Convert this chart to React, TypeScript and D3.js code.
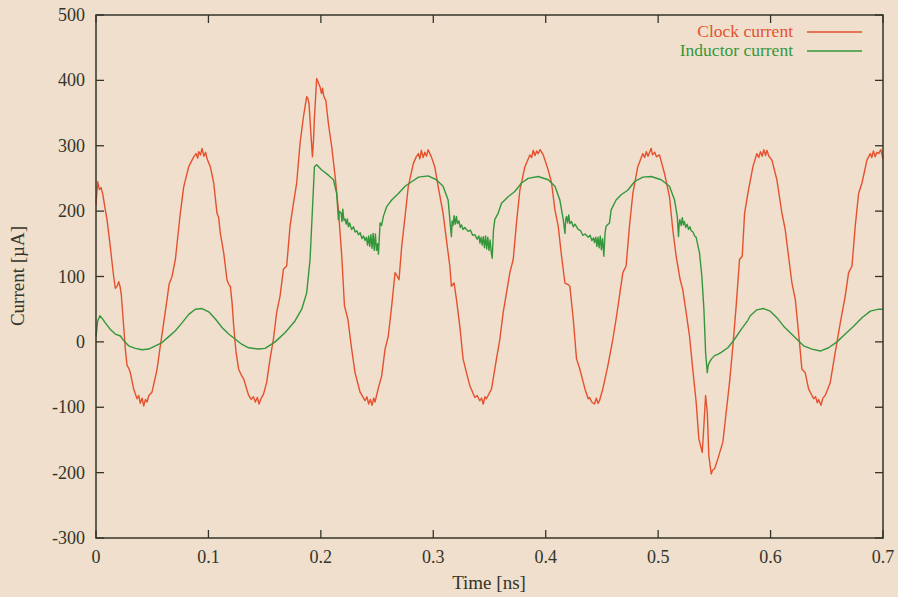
import React from "react";
import * as d3 from "d3";

// Simulated currents over time (ns, µA)
const clockCurrent: [number, number][] = [
  [0, 210], [0.0015, 245], [0.003, 233], [0.0045, 236], [0.006, 226], [0.008, 205], [0.0098, 187], [0.0127, 146],
  [0.0145, 118], [0.0157, 100], [0.0172, 82], [0.019, 86], [0.0202, 92], [0.0215, 84], [0.0225, 72], [0.0246, 24],
  [0.0261, -11], [0.0276, -36], [0.029, -40], [0.0305, -47], [0.0335, -72], [0.0365, -87], [0.038, -82], [0.0394, -94],
  [0.041, -86], [0.0424, -98], [0.044, -88], [0.0454, -92], [0.047, -82], [0.0498, -77], [0.052, -60], [0.0543, -42],
  [0.0572, -6], [0.0602, 29], [0.0632, 65], [0.065, 88], [0.0676, 100], [0.069, 112], [0.0706, 126], [0.073, 165],
  [0.075, 197], [0.078, 237], [0.0825, 268], [0.0869, 283], [0.089, 288], [0.0905, 281], [0.0913, 291], [0.093, 286],
  [0.0943, 296], [0.096, 284], [0.0975, 290], [0.0988, 280], [0.1017, 268], [0.1047, 243], [0.1076, 197], [0.1091, 190],
  [0.1106, 166], [0.1136, 136], [0.1165, 95], [0.118, 88], [0.1195, 85], [0.121, 60], [0.1225, 24], [0.1245, -15],
  [0.1269, -42], [0.129, -50], [0.1314, -57], [0.1358, -82], [0.138, -88], [0.14, -84], [0.1417, -92], [0.1435, -85],
  [0.145, -95], [0.147, -86], [0.149, -80], [0.1518, -62], [0.1548, -26], [0.1578, 4], [0.1607, 45], [0.1637, 70],
  [0.1667, 111], [0.1696, 116], [0.1726, 177], [0.1756, 212], [0.1785, 243], [0.1815, 304], [0.1845, 344], [0.1874, 375],
  [0.1885, 372], [0.1895, 364], [0.1913, 314], [0.1925, 283], [0.1935, 310], [0.1943, 344], [0.1963, 403], [0.1975, 398],
  [0.1993, 390], [0.2005, 380], [0.2015, 388], [0.2023, 378], [0.2035, 372], [0.2044, 370], [0.2067, 334], [0.2097, 298],
  [0.2127, 253], [0.2156, 202], [0.2186, 131], [0.221, 55], [0.224, 35], [0.2274, -11], [0.2304, -47], [0.2349, -77],
  [0.2393, -90], [0.241, -84], [0.2425, -95], [0.244, -88], [0.2455, -97], [0.247, -86], [0.2482, -92], [0.2512, -70],
  [0.2541, -52], [0.2571, -11], [0.26, 9], [0.263, 55], [0.266, 106], [0.268, 100], [0.2695, 95], [0.2719, 146],
  [0.2749, 192], [0.2778, 238], [0.2823, 273], [0.2848, 283], [0.2868, 288], [0.288, 280], [0.2894, 293], [0.291, 282],
  [0.2925, 290], [0.294, 284], [0.2954, 294], [0.2983, 283], [0.3013, 268], [0.3043, 238], [0.3087, 197], [0.3117, 156],
  [0.3147, 116], [0.3161, 85], [0.3185, 90], [0.3206, 65], [0.3236, 24], [0.3265, -26], [0.3295, -47], [0.3325, -67],
  [0.337, -85], [0.339, -82], [0.3414, -90], [0.343, -86], [0.3444, -95], [0.346, -84], [0.3473, -87], [0.3518, -72],
  [0.3562, -26], [0.3592, 4], [0.3622, 45], [0.3651, 75], [0.3681, 106], [0.3711, 126], [0.374, 182], [0.377, 232],
  [0.3815, 268], [0.3859, 286], [0.3875, 282], [0.3889, 293], [0.3905, 285], [0.392, 292], [0.3933, 288], [0.395, 294],
  [0.3978, 286], [0.4022, 263], [0.4052, 243], [0.4082, 202], [0.4111, 177], [0.4141, 131], [0.4171, 90], [0.4195, 88],
  [0.4215, 85], [0.4245, 35], [0.4274, -26], [0.4304, -42], [0.4349, -72], [0.4378, -87], [0.4389, -85], [0.441, -92],
  [0.4434, -95], [0.445, -86], [0.4465, -94], [0.4478, -90], [0.4508, -72], [0.4552, -37], [0.4597, 4], [0.4626, 35],
  [0.4656, 70], [0.4686, 106], [0.4715, 116], [0.4745, 177], [0.4775, 227], [0.4819, 268], [0.4864, 288], [0.488, 282],
  [0.4895, 291], [0.491, 284], [0.4938, 296], [0.495, 286], [0.497, 290], [0.4985, 283], [0.5012, 286], [0.5056, 258],
  [0.5101, 222], [0.513, 172], [0.516, 131], [0.5196, 95], [0.5219, 80], [0.5249, 45], [0.5279, 9], [0.5308, -42],
  [0.5338, -92], [0.5362, -148], [0.5392, -169], [0.5407, -128], [0.5422, -82], [0.5437, -108], [0.5451, -174], [0.5472, -202],
  [0.5485, -196], [0.5502, -194], [0.5531, -179], [0.5576, -153], [0.5605, -108], [0.5635, -62], [0.5665, -6], [0.5694, 55],
  [0.5724, 126], [0.5748, 131], [0.5769, 197], [0.5798, 227], [0.5843, 268], [0.5878, 288], [0.5895, 282], [0.591, 291],
  [0.5925, 284], [0.594, 294], [0.5955, 285], [0.5967, 293], [0.5985, 284], [0.6012, 278], [0.6056, 248], [0.6101, 197],
  [0.613, 172], [0.616, 131], [0.619, 90], [0.622, 65], [0.6249, 14], [0.6279, -42], [0.6308, -47], [0.6338, -72],
  [0.6383, -87], [0.64, -84], [0.6415, -93], [0.6427, -88], [0.6448, -97], [0.6465, -86], [0.6486, -82], [0.6531, -62],
  [0.6575, -16], [0.662, 29], [0.6664, 70], [0.6694, 106], [0.6724, 116], [0.6753, 177], [0.6783, 227], [0.6813, 243],
  [0.6857, 278], [0.6887, 288], [0.69, 282], [0.6915, 292], [0.6931, 283], [0.6945, 290], [0.6961, 288], [0.698, 294],
  [0.7, 280],
];

const inductorCurrent: [number, number][] = [
  [0, 8], [0.0015, 32], [0.0035, 40], [0.0055, 36], [0.0083, 29], [0.0128, 19], [0.0172, 12], [0.0217, 9],
  [0.0246, 2], [0.029, -6], [0.035, -10], [0.0409, -12], [0.0469, -11], [0.0528, -6], [0.0587, -1], [0.0647, 8],
  [0.0706, 17], [0.0765, 29], [0.0825, 42], [0.0884, 50], [0.0943, 51], [0.1003, 46], [0.1062, 35], [0.1121, 22],
  [0.118, 12], [0.124, 4], [0.1299, -4], [0.1358, -9], [0.1447, -11], [0.1504, -10], [0.1593, 0], [0.1681, 14],
  [0.177, 32], [0.183, 50], [0.1874, 75], [0.1904, 126], [0.1925, 202], [0.1943, 268], [0.1963, 271], [0.2008, 263],
  [0.2067, 255], [0.2112, 248], [0.2141, 227], [0.2156, 187], [0.2165, 200], [0.218, 197], [0.2188, 184], [0.2195, 203],
  [0.2205, 186], [0.2215, 188], [0.2225, 180], [0.2235, 188], [0.2245, 176], [0.2255, 182], [0.2274, 172], [0.229, 176],
  [0.2305, 168], [0.232, 170], [0.2334, 164], [0.235, 167], [0.2365, 158], [0.238, 162], [0.2393, 155], [0.2405, 160],
  [0.2415, 148], [0.2425, 162], [0.2435, 146], [0.2445, 164], [0.2455, 143], [0.2465, 166], [0.2475, 140], [0.2485, 165],
  [0.2495, 140], [0.2505, 150], [0.2512, 134], [0.2527, 182], [0.254, 178], [0.2556, 192], [0.2586, 207], [0.263, 217],
  [0.269, 227], [0.2749, 238], [0.2808, 245], [0.2868, 252], [0.2954, 254], [0.3028, 248], [0.3087, 238], [0.3132, 217],
  [0.3161, 161], [0.3168, 185], [0.3176, 178], [0.3185, 193], [0.3195, 180], [0.3206, 192], [0.3215, 181], [0.3228, 185],
  [0.324, 175], [0.325, 179], [0.3265, 172], [0.328, 175], [0.331, 169], [0.333, 171], [0.335, 163], [0.337, 164],
  [0.339, 157], [0.3405, 162], [0.3415, 151], [0.3425, 160], [0.3435, 148], [0.3445, 161], [0.3455, 144], [0.3465, 162],
  [0.3475, 142], [0.3485, 160], [0.3495, 140], [0.3505, 156], [0.3515, 138], [0.3524, 128], [0.3535, 170], [0.3547, 187],
  [0.3577, 197], [0.3607, 212], [0.3666, 222], [0.3725, 230], [0.3785, 243], [0.3844, 250], [0.3933, 253], [0.4022, 248],
  [0.4082, 238], [0.4126, 217], [0.4156, 187], [0.4171, 166], [0.4178, 188], [0.4186, 192], [0.4195, 182], [0.4205, 194],
  [0.4215, 181], [0.423, 184], [0.4245, 176], [0.426, 180], [0.4289, 172], [0.431, 170], [0.433, 163], [0.435, 165],
  [0.4378, 160], [0.4395, 163], [0.441, 155], [0.4425, 159], [0.4434, 152], [0.4445, 160], [0.4455, 146], [0.4465, 160],
  [0.4475, 144], [0.4485, 162], [0.4495, 141], [0.4505, 158], [0.4517, 131], [0.4527, 165], [0.4537, 177], [0.4567, 182],
  [0.4582, 202], [0.4626, 217], [0.4671, 225], [0.473, 232], [0.4789, 245], [0.4864, 252], [0.4938, 253], [0.5027, 248],
  [0.5101, 238], [0.5146, 217], [0.517, 192], [0.5181, 161], [0.5187, 180], [0.5193, 187], [0.5205, 178], [0.5215, 190],
  [0.5225, 179], [0.5234, 184], [0.5245, 175], [0.5258, 180], [0.527, 172], [0.5283, 176], [0.5294, 170], [0.531, 168],
  [0.5325, 162], [0.5338, 160], [0.5368, 136], [0.5389, 100], [0.5407, 50], [0.5422, -16], [0.5437, -47], [0.5445, -36],
  [0.5457, -31], [0.5475, -26], [0.5502, -21], [0.553, -19], [0.5561, -16], [0.562, -9], [0.568, 4], [0.5739, 19],
  [0.5798, 33], [0.5819, 40], [0.5878, 49], [0.5938, 51], [0.5997, 47], [0.6056, 37], [0.6116, 24], [0.6175, 14],
  [0.6234, 4], [0.6294, -6], [0.6368, -11], [0.6442, -14], [0.6516, -9], [0.6591, 0], [0.6664, 12], [0.6739, 24],
  [0.6813, 37], [0.6887, 47], [0.6961, 50], [0.7, 50],
];

const xTicks = [0, 0.1, 0.2, 0.3, 0.4, 0.5, 0.6, 0.7];
const yTicks = [-300, -200, -100, 0, 100, 200, 300, 400, 500];
const seriesNames = ["Clock current", "Inductor current"];

const W = 898;
const H = 597;
const plot = { left: 96, right: 883, top: 15, bottom: 538 };
const BG = "#efdfcc";
const INK = "#34342a";
const RED = "#e5512f";
const GREEN = "#35973c";
const FONT = "'Liberation Serif', 'Times New Roman', serif";
const TICK = 8;

export default function App() {
  const x = d3.scaleLinear().domain([0, 0.7]).range([plot.left, plot.right]);
  const y = d3.scaleLinear().domain([-300, 500]).range([plot.bottom, plot.top]);
  const line = d3
    .line<[number, number]>()
    .x((d) => x(d[0]))
    .y((d) => y(d[1]));

  const legend = [
    { name: seriesNames[0], color: RED, ty: 37, ly: 32 },
    { name: seriesNames[1], color: GREEN, ty: 56, ly: 51 },
  ];

  return (
    <svg
      width={W}
      height={H}
      style={{ position: "absolute", left: 0, top: 0, background: BG }}
      fontFamily={FONT}
    >
      <rect x={0} y={0} width={W} height={H} fill={BG} />

      <path d={line(clockCurrent) ?? ""} fill="none" stroke={RED} strokeWidth={1.4} strokeLinejoin="round" />
      <path d={line(inductorCurrent) ?? ""} fill="none" stroke={GREEN} strokeWidth={1.4} strokeLinejoin="round" />

      {/* frame with mirrored inward ticks */}
      <rect
        x={plot.left}
        y={plot.top}
        width={plot.right - plot.left}
        height={plot.bottom - plot.top}
        fill="none"
        stroke={INK}
        strokeWidth={1.5}
      />
      {xTicks.map((t) => (
        <g key={"x" + t}>
          <line x1={x(t)} x2={x(t)} y1={plot.bottom} y2={plot.bottom - TICK} stroke={INK} strokeWidth={1.3} />
          <line x1={x(t)} x2={x(t)} y1={plot.top} y2={plot.top + TICK} stroke={INK} strokeWidth={1.3} />
          <text x={x(t)} y={563} textAnchor="middle" fontSize={18} fill={INK}>
            {t === 0 ? "0" : String(t)}
          </text>
        </g>
      ))}
      {yTicks.map((v) => (
        <g key={"y" + v}>
          <line x1={plot.left} x2={plot.left + TICK} y1={y(v)} y2={y(v)} stroke={INK} strokeWidth={1.3} />
          <line x1={plot.right} x2={plot.right - TICK} y1={y(v)} y2={y(v)} stroke={INK} strokeWidth={1.3} />
          <text x={85} y={y(v) + 6} textAnchor="end" fontSize={18} fill={INK}>
            {v}
          </text>
        </g>
      ))}

      <text x={489} y={589} textAnchor="middle" fontSize={19} fill={INK}>
        Time [ns]
      </text>
      <text
        transform="translate(24,276) rotate(-90)"
        textAnchor="middle"
        fontSize={19}
        fill={INK}
      >
        Current [µA]
      </text>

      {legend.map((l) => (
        <g key={l.name}>
          <text x={793} y={l.ty} textAnchor="end" fontSize={17.5} fill={l.color}>
            {l.name}
          </text>
          <line x1={807} x2={862} y1={l.ly} y2={l.ly} stroke={l.color} strokeWidth={1.3} />
        </g>
      ))}
    </svg>
  );
}
